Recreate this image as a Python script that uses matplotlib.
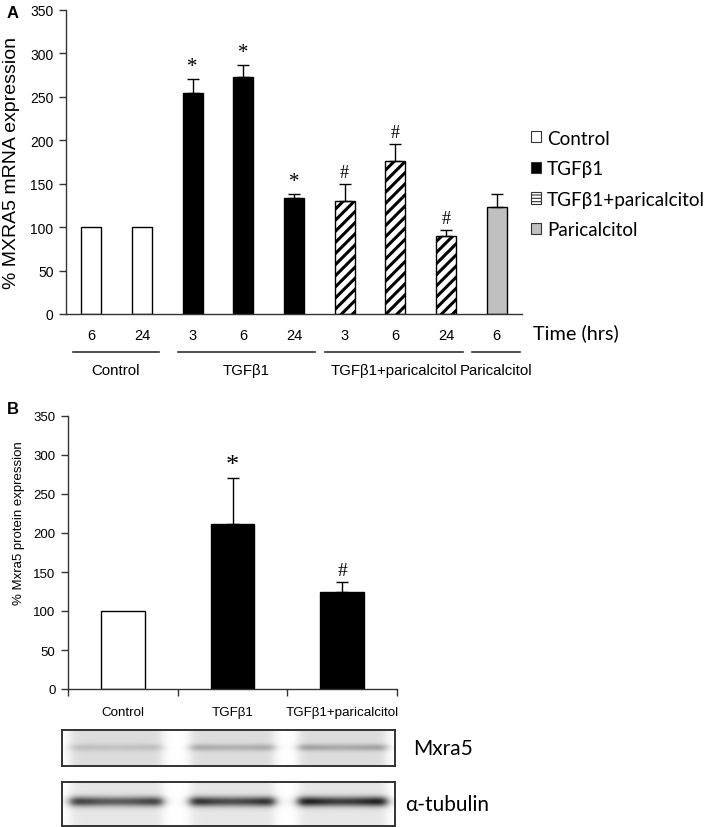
import numpy as np
import matplotlib
matplotlib.use("Agg")
import matplotlib.pyplot as plt
from matplotlib.patches import Patch

plt.rcParams['font.family'] = ['Liberation Sans', 'DejaVu Sans']
plt.rcParams['hatch.linewidth'] = 2.2

W, H = 709, 828

# ---------------- data: panel A (mRNA) ----------------
time_labels = ['6', '24', '3', '6', '24', '3', '6', '24', '6']
mrna_group = ['Control', 'Control', 'TGFβ1', 'TGFβ1', 'TGFβ1',
              'TGFβ1+paricalcitol', 'TGFβ1+paricalcitol', 'TGFβ1+paricalcitol',
              'Paricalcitol']
mrna_mean = [100, 100, 255, 273, 133, 130, 176, 90, 123]
mrna_err = [0, 0, 16, 14, 5, 20, 20, 7, 15]
mrna_mark = ['', '', '*', '*', '*', '#', '#', '#', '']

# ---------------- data: panel B (protein) ----------------
prot_labels = ['Control', 'TGFβ1', 'TGFβ1+paricalcitol']
prot_mean = [100, 211, 124]
prot_err = [0, 59, 13]
prot_mark = ['', '*', '#']

# blot band strength per lane (0 = none, 1 = black)
mxra5_band = [0.13, 0.22, 0.26]
tubulin_band = [0.72, 0.80, 0.88]

group_style = {
    'Control': dict(facecolor='white', hatch=None),
    'TGFβ1': dict(facecolor='black', hatch=None),
    'TGFβ1+paricalcitol': dict(facecolor='white', hatch='///'),
    'Paricalcitol': dict(facecolor='#c0c0c0', hatch=None),
}
legend_hatch = {'TGFβ1+paricalcitol': '-----'}


def fbox(x0, y0, x1, y1):
    return [x0 / W, 1 - y1 / H, (x1 - x0) / W, (y1 - y0) / H]


def style_axes(ax, fs):
    for s in ['top', 'right']:
        ax.spines[s].set_visible(False)
    for s in ['left', 'bottom']:
        ax.spines[s].set_color('#333333')
        ax.spines[s].set_linewidth(1.0)
    ax.set_yticks(range(0, 351, 50))
    ax.set_ylim(0, 350)
    ax.tick_params(axis='y', direction='out', length=5, width=1, color='#333333', labelsize=fs, pad=4)


def draw_err(ax, xs, means, errs):
    # only bars that have an SEM get a whisker
    keep = [i for i in range(len(xs)) if errs[i] > 0]
    ax.errorbar([xs[i] for i in keep], [means[i] for i in keep],
                yerr=[np.zeros(len(keep)), [errs[i] for i in keep]], fmt='none',
                ecolor='black', elinewidth=1, capsize=4, capthick=1, zorder=3)


fig = plt.figure(figsize=(W / 100, H / 100), dpi=100)

# ================= PANEL A =================
axA = fig.add_axes(fbox(66, 11, 522, 315))
style_axes(axA, 10)
x = np.arange(len(mrna_mean))
for i in x:
    st = group_style[mrna_group[i]]
    axA.bar(i, mrna_mean[i], width=0.4, color=st['facecolor'], edgecolor='black',
            linewidth=1.0, hatch=st['hatch'], zorder=2)
draw_err(axA, x, mrna_mean, mrna_err)
for i in x:
    if mrna_mark[i]:
        axA.annotate(mrna_mark[i], (i, mrna_mean[i] + mrna_err[i]), xytext=(0, 2),
                     textcoords='offset points', ha='center', va='bottom',
                     fontsize=15 if mrna_mark[i] == '*' else 13, family='Liberation Serif')
axA.set_xlim(-0.5, 8.5)
axA.set_xticks(x)
axA.set_xticklabels(time_labels)
axA.tick_params(axis='x', length=0, labelsize=10.5, pad=10)
axA.set_ylabel('% MXRA5 mRNA expression', fontsize=14)
axA.yaxis.set_label_coords(-0.101, 0.5)

# group underlines + names
groups = []
for g in mrna_group:
    if g not in groups:
        groups.append(g)
pads = {'Control': (0.36, 0.33), 'TGFβ1': (0.29, 0.41),
        'TGFβ1+paricalcitol': (0.39, 0.33), 'Paricalcitol': (0.49, 0.47)}
tr = axA.get_xaxis_transform()
for g in groups:
    idx = [i for i, gg in enumerate(mrna_group) if gg == g]
    a, b = idx[0] - pads[g][0], idx[-1] + pads[g][1]
    axA.plot([a, b], [-0.125, -0.125], color='#333333', lw=1.2, transform=tr, clip_on=False)
    axA.text((a + b) / 2, -0.183, g, transform=tr, ha='center', va='center', fontsize=10.8)

fig.text(533 / W, 1 - 333 / H, 'Time (hrs)', fontsize=14.3, family='Lato', va='center')
fig.text(7 / W, 1 - 13 / H, 'A', fontsize=12, fontweight='bold', va='center')

handles = []
for g in groups:
    st = group_style[g]
    handles.append(Patch(facecolor=st['facecolor'], edgecolor='#333333', linewidth=0.8,
                         hatch=legend_hatch.get(g), label=g))
with plt.rc_context({'hatch.linewidth': 0.8}):
    leg = fig.legend(handles=handles, loc='upper left', bbox_to_anchor=(523 / W, 1 - 123 / H),
                     frameon=False, handlelength=0.53, handleheight=0.53,
                     handletextpad=0.33, labelspacing=0.72, borderaxespad=0,
                     prop={'family': 'Lato', 'size': 13.6})

# ================= PANEL B =================
axB = fig.add_axes(fbox(68, 417, 397, 690))
style_axes(axB, 9.5)
xb = np.arange(len(prot_mean))
colB = ['white', 'black', 'black']
axB.bar(xb, prot_mean, width=0.4, color=colB, edgecolor='black', linewidth=1.0, zorder=2)
draw_err(axB, xb, prot_mean, prot_err)
for i in xb:
    if prot_mark[i]:
        axB.annotate(prot_mark[i], (i, prot_mean[i] + prot_err[i]), xytext=(0, 2),
                     textcoords='offset points', ha='center', va='bottom',
                     fontsize=19 if prot_mark[i] == '*' else 14, family='Liberation Serif')
axB.set_xlim(-0.5, 2.5)
axB.set_xticks(xb)
axB.set_xticklabels(prot_labels)
axB.set_xticks(np.arange(-0.5, 2.6, 1), minor=True)
axB.tick_params(axis='x', which='major', length=0, labelsize=9.6, pad=12)
axB.tick_params(axis='x', which='minor', length=5, width=1, color='#333333', direction='out')
axB.set_ylabel('% Mxra5 protein expression', fontsize=9.5)
axB.yaxis.set_label_coords(-0.131, 0.61)
fig.text(7 / W, 1 - 410 / H, 'B', fontsize=12, fontweight='bold', va='center')

# ================= western blot strips =================
lanes = [(70, 162), (190, 274), (298, 386)]


def lane_profile(xs, x0, x1, soft=3.0):
    return 1 / (1 + np.exp(-(xs - x0) / soft)) / (1 + np.exp(-(x1 - xs) / soft))


def blot(y0, y1, yc, sig, bands, bg):
    xs = np.arange(62, 395, 1.0)
    ys = np.arange(y0, y1, 1.0)
    X, Y = np.meshgrid(xs, ys)
    dark = np.zeros_like(X)
    for (a, b), s in zip(lanes, bands):
        m = lane_profile(X, a, b)
        u = (X - a) / (b - a)
        ends = 0.75 + 0.25 * (np.abs(u - 0.5) * 2) ** 2
        dark += m * (bg + s * ends * np.exp(-((Y - yc) / sig) ** 2))
    return 1 - np.clip(dark, 0, 1)


for (y0, y1, yc, sig, bands, bg, name, lx) in [
        (731, 767, 748, 3.5, mxra5_band, 0.14, 'Mxra5', 413),
        (783, 827, 802, 5.0, tubulin_band, 0.10, 'α-tubulin', 405)]:
    axb = fig.add_axes(fbox(62, y0, 395, y1))
    img = blot(y0, y1, yc, sig, bands, bg)
    axb.imshow(img, cmap='gray', vmin=0, vmax=1, aspect='auto', interpolation='bilinear')
    axb.set_xticks([])
    axb.set_yticks([])
    for s in axb.spines.values():
        s.set_color('#333333')
        s.set_linewidth(1.4)
    fig.text(lx / W, 1 - (y0 + y1) / 2 / H, name, fontsize=15, family='Lato', va='center')

fig.savefig('out.png', dpi=100)
